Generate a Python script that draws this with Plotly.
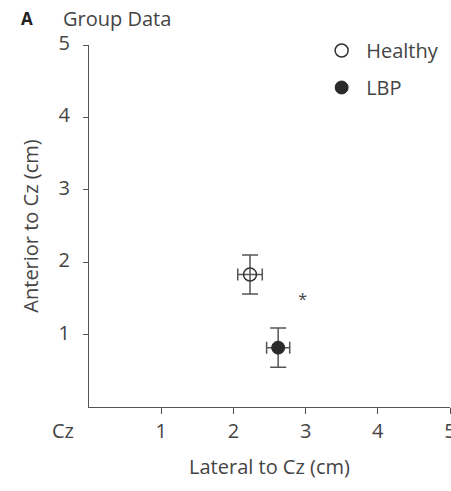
import plotly.graph_objects as go

groups = ["Healthy", "LBP"]
lateral = [2.23, 2.62]
anterior = [1.83, 0.82]
lateral_err = [0.17, 0.16]
anterior_err = [0.27, 0.27]
sig_x = [2.96]
sig_y = [1.46]
sig_text = ["*"]
ticks = [1, 2, 3, 4, 5]

FONT = "Open Sans"
TXT = "#444444"
AX = "#555555"

fig = go.Figure()
styles = [
    dict(symbol="circle-open", color="#333333", line=dict(width=1.5, color="#333333")),
    dict(symbol="circle", color="#2a2a2a", line=dict(width=1, color="#2a2a2a")),
]
for i, g in enumerate(groups):
    fig.add_trace(go.Scatter(
        x=[lateral[i]], y=[anterior[i]], mode="markers", name=g,
        legendgroup=g,
        marker=dict(size=13, **styles[i]),
        error_x=dict(type="data", array=[lateral_err[i]], color=AX, thickness=1.5, width=6),
        error_y=dict(type="data", array=[anterior_err[i]], color=AX, thickness=1.5, width=8),
    ))

fig.add_trace(go.Scatter(x=sig_x, y=sig_y, mode="text", text=sig_text,
                         textfont=dict(size=16, color=TXT, family=FONT),
                         showlegend=False, hoverinfo="skip"))

# paper spans y px 25..407 (382 px); axis domain covers 45..407
H = 382.0
def py(px):
    return (407 - px) / H

fig.update_layout(
    width=451, height=491,
    margin=dict(l=89, r=1, t=25, b=84),
    paper_bgcolor="white", plot_bgcolor="white",
    font=dict(family=FONT, size=20, color=TXT),
    showlegend=True,
    legend=dict(x=0.632, y=py(31), xanchor="left", yanchor="top",
                font=dict(size=20, color=TXT), tracegroupgap=8, itemwidth=39,
                bgcolor="rgba(0,0,0,0)"),
    xaxis=dict(range=[0, 5], showline=True, linecolor=AX, linewidth=1.2,
               ticks="outside", ticklen=6, tickcolor=AX, tickvals=ticks,
               showgrid=False, zeroline=False, automargin=False,
               ticklabeloverflow="allow",
               title=dict(text="Lateral to Cz (cm)", standoff=16, font=dict(size=20)),
               tickfont=dict(size=20)),
    yaxis=dict(range=[0, 5], domain=[0, 362 / H], showline=True, linecolor=AX,
               linewidth=1.2, ticks="outside", ticklen=5, tickcolor=AX,
               tickvals=ticks, showgrid=False, zeroline=False, automargin=False,
               ticklabelstandoff=9, ticklabelshift=-2,
               title=dict(text="Anterior to Cz (cm)", standoff=14, font=dict(size=20)),
               tickfont=dict(size=20)),
    annotations=[
        dict(text="<b>A</b>", xref="paper", yref="paper", x=-0.195, y=py(19),
             xanchor="left", yanchor="middle", showarrow=False,
             font=dict(size=17, color="#222222")),
        dict(text="Cz", xref="paper", yref="paper", x=-0.072, y=py(430),
             xanchor="center", yanchor="middle", showarrow=False, font=dict(size=20)),
        dict(text="Group Data", xref="paper", yref="paper", x=-0.077, y=py(18),
             xanchor="left", yanchor="middle", showarrow=False, font=dict(size=20)),
    ],
)

fig.write_html(
    "out.html",
    config={"displayModeBar": False},
    post_script="document.body.style.margin='0';document.body.style.overflow='hidden';",
)
